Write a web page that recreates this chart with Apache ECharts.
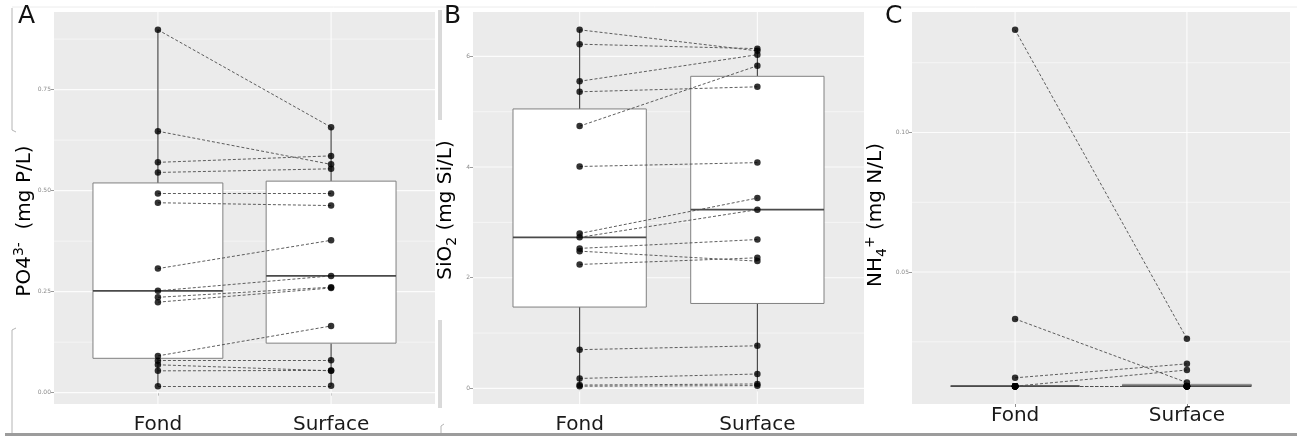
<!DOCTYPE html>
<html>
<head>
<meta charset="utf-8">
<title>Fond / Surface nutrients</title>
<script src="https://cdn.jsdelivr.net/npm/echarts@6.0.0/dist/echarts.min.js"></script>
<style>
  html, body { margin: 0; padding: 0; background: #ffffff; }
  #chart { width: 1297px; height: 436px; }
</style>
</head>
<body>
<div id="chart"></div>
<script>
// ---- data -------------------------------------------------------------
const categories = ['Fond', 'Surface'];

// PO4 (mg P/L), paired samples: po4Fond[i] <-> po4Surface[i]
const po4Fond    = [0.898, 0.647, 0.570, 0.545, 0.493, 0.470, 0.307, 0.252, 0.236, 0.224, 0.091, 0.079, 0.069, 0.054, 0.016];
const po4Surface = [0.657, 0.565, 0.586, 0.554, 0.493, 0.463, 0.377, 0.289, 0.261, 0.259, 0.165, 0.080, 0.054, 0.055, 0.017];

// SiO2 (mg Si/L)
const sio2Fond    = [6.48, 6.22, 5.55, 5.36, 4.74, 4.01, 2.80, 2.73, 2.53, 2.48, 2.24, 0.70, 0.18, 0.06, 0.04];
const sio2Surface = [6.10, 6.14, 6.03, 5.45, 5.83, 4.08, 3.44, 3.23, 2.69, 2.30, 2.36, 0.77, 0.26, 0.08, 0.05];

// NH4 (mg N/L)
const nh4Fond    = [0.1368, 0.0332, 0.0121, 0.0091, 0.0091, 0.0091, 0.0091, 0.0091, 0.0091, 0.0091, 0.0091, 0.0091, 0.0091, 0.0091, 0.0091];
const nh4Surface = [0.0261, 0.0104, 0.0171, 0.0149, 0.0091, 0.0091, 0.0091, 0.0091, 0.0091, 0.0091, 0.0091, 0.0091, 0.0091, 0.0091, 0.0091];

// axis breaks
const po4Ticks = [0, 0.25, 0.5, 0.75];
const po4TickLabels = ['0.00', '0.25', '0.50', '0.75'];
const po4Minor = [0.125, 0.375, 0.625, 0.875];

const sio2Ticks = [0, 2, 4, 6];
const sio2TickLabels = ['0', '2', '4', '6'];
const sio2Minor = [1, 3, 5];

const nh4Ticks = [0.05, 0.10];
const nh4TickLabels = ['0.05', '0.10'];
const nh4Minor = [0.025, 0.075, 0.125];

// ---- helpers ----------------------------------------------------------
function quantile7(sorted, p) {
  const h = (sorted.length - 1) * p;
  const lo = Math.floor(h);
  const hi = Math.min(lo + 1, sorted.length - 1);
  return sorted[lo] + (h - lo) * (sorted[hi] - sorted[lo]);
}

// Tukey box statistics: [lowWhisker, q1, median, q3, highWhisker]
function boxStats(values) {
  const s = values.slice().sort((a, b) => a - b);
  const q1 = quantile7(s, 0.25), med = quantile7(s, 0.5), q3 = quantile7(s, 0.75);
  const iqr = q3 - q1;
  const loFence = q1 - 1.5 * iqr, hiFence = q3 + 1.5 * iqr;
  const inside = s.filter(v => v >= loFence && v <= hiFence);
  return [inside[0], q1, med, q3, inside[inside.length - 1]];
}

// continuous range padded by 5% on each side
function paddedRange(a, b) {
  const all = a.concat(b);
  const mn = Math.min(...all), mx = Math.max(...all);
  const pad = (mx - mn) * 0.05;
  return [mn - pad, mx + pad];
}

const BOX_WIDTH = 0.75;
const FONT = 'DejaVu Sans';

const panels = [
  { fond: po4Fond, surf: po4Surface, ticks: po4Ticks, tickLabels: po4TickLabels, minor: po4Minor,
    letter: 'A', title: '{b|PO4}{sup|3-}{b|  (mg P/L)}',
    left: 54, top: 12, width: 381, height: 392, letterX: 18, titleX: 25, titleY: 221, labelMargin: 11 },
  { fond: sio2Fond, surf: sio2Surface, ticks: sio2Ticks, tickLabels: sio2TickLabels, minor: sio2Minor,
    letter: 'B', title: '{b|SiO}{sub|2}{b| (mg Si/L)}',
    left: 473, top: 12, width: 391, height: 392, letterX: 444, titleX: 446, titleY: 210, labelMargin: 11 },
  { fond: nh4Fond, surf: nh4Surface, ticks: nh4Ticks, tickLabels: nh4TickLabels, minor: nh4Minor,
    letter: 'C', title: '{b|NH}{sub|4}{sup|+}{b| (mg N/L)}',
    left: 912, top: 12, width: 378, height: 392, letterX: 885, titleX: 876, titleY: 215, labelMargin: 2 }
];

const grids = [], xAxes = [], yAxes = [], series = [], graphics = [];

function renderGridLine(params, api) {
  const cs = params.coordSys;
  const kind = api.value(2);
  if (kind < 2) {
    const y = api.coord([1.5, api.value(1)])[1];
    return { type: 'line', shape: { x1: cs.x, y1: y, x2: cs.x + cs.width, y2: y },
             style: { stroke: '#ffffff', lineWidth: kind === 0 ? 1.1 : 0.6, opacity: 0.85 } };
  }
  const x = api.coord([api.value(0), api.value(1)])[0];
  return { type: 'line', shape: { x1: x, y1: cs.y, x2: x, y2: cs.y + cs.height },
           style: { stroke: '#ffffff', lineWidth: 1.1, opacity: 0.85 } };
}

function renderBox(params, api) {
  const x = api.value(0);
  const lo = api.coord([x, api.value(1)]);
  const q1 = api.coord([x, api.value(2)]);
  const md = api.coord([x, api.value(3)]);
  const q3 = api.coord([x, api.value(4)]);
  const hi = api.coord([x, api.value(5)]);
  const half = api.size([BOX_WIDTH, 0])[0] / 2;
  return {
    type: 'group',
    children: [
      { type: 'line', shape: { x1: lo[0], y1: lo[1], x2: q1[0], y2: q1[1] }, style: { stroke: '#3a3a3a', lineWidth: 1.1 } },
      { type: 'line', shape: { x1: q3[0], y1: q3[1], x2: hi[0], y2: hi[1] }, style: { stroke: '#3a3a3a', lineWidth: 1.1 } },
      { type: 'rect', shape: { x: q3[0] - half, y: q3[1], width: 2 * half, height: q1[1] - q3[1] },
        style: { fill: '#ffffff', stroke: '#808080', lineWidth: 1 } },
      { type: 'line', shape: { x1: md[0] - half, y1: md[1], x2: md[0] + half, y2: md[1] },
        style: { stroke: '#4a4a4a', lineWidth: 1.8 } }
    ]
  };
}

panels.forEach((p, i) => {
  const [ymin, ymax] = paddedRange(p.fond, p.surf);
  const yMid = (ymin + ymax) / 2;

  grids.push({ left: p.left, top: p.top, width: p.width, height: p.height,
               show: true, backgroundColor: '#ebebeb', borderWidth: 0 });

  xAxes.push({
    gridIndex: i, type: 'value', min: 0.4, max: 2.6,
    axisLine: { show: false }, splitLine: { show: false },
    axisTick: { show: true, length: 3, customValues: [1, 2], lineStyle: { color: '#8c8c8c', width: 1 } },
    axisLabel: { customValues: [1, 2], formatter: v => categories[Math.round(v) - 1],
                 fontFamily: FONT, fontSize: 20, color: '#1a1a1a', margin: p.labelMargin }
  });

  yAxes.push({
    gridIndex: i, type: 'value', min: ymin, max: ymax,
    axisLine: { show: false }, splitLine: { show: false },
    axisTick: { show: true, length: 3, customValues: p.ticks, lineStyle: { color: '#9a9a9a', width: 1 } },
    axisLabel: {
      customValues: p.ticks,
      formatter: v => {
        let best = 0;
        p.ticks.forEach((t, k) => { if (Math.abs(t - v) < Math.abs(p.ticks[best] - v)) best = k; });
        return p.tickLabels[best];
      },
      fontFamily: FONT, fontSize: 6, color: '#8a8a8a', margin: 3
    }
  });

  // panel grid lines
  const gridData = [];
  p.ticks.forEach(v => gridData.push([1.5, v, 0]));
  p.minor.forEach(v => gridData.push([1.5, v, 1]));
  [1, 2].forEach(c => gridData.push([c, yMid, 2]));
  series.push({ type: 'custom', xAxisIndex: i, yAxisIndex: i, z: 1, silent: true,
                renderItem: renderGridLine, data: gridData });

  // box plots
  const boxData = [p.fond, p.surf].map((vals, k) => [k + 1].concat(boxStats(vals)));
  series.push({ type: 'custom', xAxisIndex: i, yAxisIndex: i, z: 2, silent: true,
                encode: { x: 0, y: [1, 2, 3, 4, 5] }, renderItem: renderBox, data: boxData });

  // paired dashed segments
  series.push({
    type: 'lines', coordinateSystem: 'cartesian2d', xAxisIndex: i, yAxisIndex: i, z: 3, silent: true,
    symbol: 'none',
    lineStyle: { color: '#4d4d4d', width: 1, type: [3, 2], opacity: 0.9 },
    data: p.fond.map((v, k) => ({ coords: [[1, v], [2, p.surf[k]]] }))
  });

  // sample points
  series.push({
    type: 'scatter', xAxisIndex: i, yAxisIndex: i, z: 4, silent: true,
    symbol: 'circle', symbolSize: 6.5,
    itemStyle: { color: '#000000' },
    data: p.fond.map(v => [1, v]).concat(p.surf.map(v => [2, v]))
  });

  // panel letter
  graphics.push({ type: 'text', left: p.letterX, top: 4, z: 10,
                  style: { text: p.letter, font: '25px "DejaVu Sans"', fill: '#111111' } });

  // y axis title
  graphics.push({
    type: 'text', x: p.titleX, y: p.titleY, rotation: Math.PI / 2, z: 10,
    style: {
      text: p.title, align: 'center', verticalAlign: 'middle',
      rich: {
        b: { fontFamily: FONT, fontSize: 20, color: '#1a1a1a', lineHeight: 26 },
        sup: { fontFamily: FONT, fontSize: 14, color: '#1a1a1a', verticalAlign: 'top', lineHeight: 16 },
        sub: { fontFamily: FONT, fontSize: 14, color: '#1a1a1a', verticalAlign: 'bottom', lineHeight: 16 }
      }
    }
  });
});

// figure frame strokes
const frame = [
  [12, 8, 12, 130], [12, 130, 16, 132],
  [12, 330, 12, 434], [12, 330, 16, 328],
  [439, 10, 439, 120], [441, 10, 441, 120],
  [439, 320, 439, 408], [441, 320, 441, 408],
  [441, 426, 441, 436], [441, 426, 444, 424],
  [12, 7, 1297, 7]
];
frame.forEach((f, k) => graphics.push({
  type: 'line', z: 0, silent: true,
  shape: { x1: f[0], y1: f[1], x2: f[2], y2: f[3] },
  style: { stroke: k === frame.length - 1 ? '#ececec' : '#b4b4b4', lineWidth: 1 }
}));
graphics.push({ type: 'rect', z: 0, silent: true, shape: { x: 5, y: 433, width: 1292, height: 3 },
                style: { fill: '#9c9c9c' } });

const chart = echarts.init(document.getElementById('chart'), null, { renderer: 'canvas' });
chart.setOption({
  backgroundColor: '#ffffff',
  animation: false,
  grid: grids,
  xAxis: xAxes,
  yAxis: yAxes,
  series: series,
  graphic: graphics
});
</script>
</body>
</html>
